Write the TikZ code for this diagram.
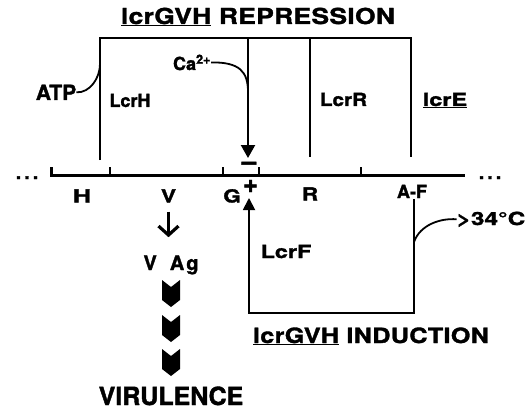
\documentclass[tikz,border=0pt]{standalone}
\usepackage{fontspec}
\setmainfont{TeX Gyre Heros}[BoldFeatures={FakeBold=1.6}]
\usetikzlibrary{arrows.meta}

\tikzset{
    lbl/.style={font=\bfseries\fontsize{18}{18}\selectfont\addfontfeatures{FakeStretch=#1}, inner sep=0pt, anchor=base},
    lbl/.default=1.1,
    tag/.style={font=\bfseries\fontsize{18}{18}\selectfont\addfontfeatures{FakeStretch=#1}, inner sep=0pt, anchor=base},
    tag/.default=1.25,
    head/.style={font=\bfseries\fontsize{#1}{#1}\selectfont\addfontfeatures{FakeStretch=1.2,LetterSpace=1.5}, inner sep=0pt, anchor=base},
    head/.default=22,
    box/.style={line width=1.8pt},
    gene/.style={line width=3pt},
    chev/.style={fill=black},
}

\begin{document}
\begin{tikzpicture}[x=1pt, y=-1pt]
    \useasboundingbox (0,0) rectangle (527,409);
    % repression
    \node[head] (rep) at (258,24) {\underline{lcrGVH} REPRESSION};
    \coordinate (hT) at (100,38);
    \coordinate (hB) at (100,160);
    \coordinate (gT) at (248,38);
    \coordinate (gB) at (248,158);
    \coordinate (rT) at (310,38);
    \coordinate (rB) at (310,157);
    \coordinate (eT) at (411,38);
    \coordinate (eB) at (411,157);
    \draw[box] (hB) -- (hT) -- (eT) -- (eB);
    \draw[box] (rT) -- (rB);
    \draw[box, line width=2.2pt, -{Triangle[width=14pt, length=13pt]}] (gT) -- (gB);

    \node[lbl=1.0] (lcrh) at (130,107) {LcrH};
    \node[lbl=1.15] (lcrr) at (343.5,106) {LcrR};
    \node[lbl=1.3] (lcre) at (445,106) {\underline{lcrE}};
        % effectors
        \node[lbl=1.0, font=\bfseries\fontsize{21}{21}\selectfont] (atp) at (56,100) {ATP};
        \node[lbl=1.0, font=\bfseries\fontsize{18}{18}\selectfont] (ca) at (192,70) {Ca\textsuperscript{2+}};
        \coordinate (atpJ) at (100,64);
        \coordinate (caJ) at (248,92);
        \draw[box] (atp.east) .. controls (90,93) and (100,78) .. (atpJ);
        \draw[box] (ca.east) .. controls (240,62) and (248,72) .. (caJ);

    % gene line
    \coordinate (g0) at (51,175);
    \coordinate (g1) at (465,175);
    \draw[gene] (51,167) -- (g0) -- (g1);
    \foreach \x in {110,223,259,361}
        \draw[box] (\x,175) -- (\x,167);
    \node[lbl] (ldots) at (27,179) {.\hspace{3pt}.\hspace{3pt}.};
    \node[lbl] (rdots) at (490,179) {.\hspace{3pt}.\hspace{3pt}.};

    \node[tag=1.4] (h) at (82,202.5) {H};
    \node[tag] (v) at (168.5,202.5) {V};
    \node[tag] (g) at (232,202.5) {G};
    \node[tag] (r) at (310,200.5) {R};
    \node[tag=1.0] (af) at (412,198) {A-F};
    \node[lbl=1.0, font=\bfseries\fontsize{26}{26}\selectfont] (minus) at (249,170) {--};
    \node[lbl=1.0, font=\bfseries\fontsize{26}{26}\selectfont] (plus) at (250.5,192.5) {+};

    % induction
    \coordinate (fT) at (249,198);
    \coordinate (fB) at (249,313);
    \coordinate (aB) at (414,313);
    \coordinate (aT) at (414,199);
    \draw[box, {Triangle[width=12pt, length=12pt]}-] (fT) -- (fB) -- (aB) -- (aT);
    \node[lbl=1.3] (lcrf) at (286,258) {LcrF};
    \node[head=21] (ind) at (371,343) {\underline{lcrGVH} INDUCTION};
        \node[lbl=1.35] (temp) at (491,225) {>34°C};
        \coordinate (tJ) at (414,242);
        \draw[box] (tJ) .. controls (420,225) and (440,218) .. (temp.west);

    % virulence
    \node[lbl=1.1, font=\bfseries\fontsize{20}{20}\selectfont] (vag) at (171,270) {V\hspace{13pt}A\hspace{2pt}g};
    \draw[line width=3.2pt, -{Straight Barb[length=9pt, width=20pt]}, shorten <=9pt, shorten >=18pt] (v.south) -- (v.south |- vag.north);
    \foreach \y in {280,315,349}
        \fill[chev] (162,\y) -- (171,\y+7) -- (180,\y) -- (180,\y+20) -- (171,\y+27) -- (162,\y+20) -- cycle;
    \node[lbl=1.0, font=\bfseries\fontsize{25}{25}\selectfont] (vir) at (171,405) {VIRULENCE};
\end{tikzpicture}
\end{document}
